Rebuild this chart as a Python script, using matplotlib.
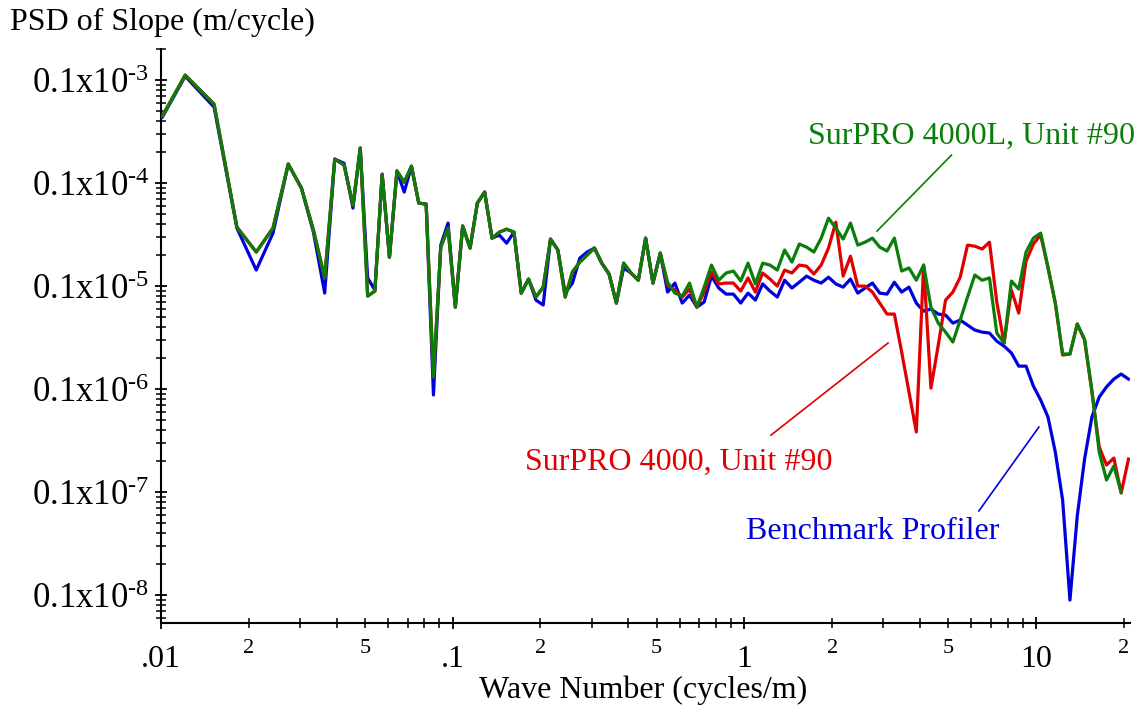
import numpy as np
import matplotlib
matplotlib.use("Agg")
import matplotlib.pyplot as plt
from matplotlib.ticker import LogLocator, NullFormatter
from matplotlib.transforms import ScaledTranslation

plt.rcParams['font.family'] = ['Liberation Serif', 'DejaVu Serif']
plt.rcParams['mathtext.fontset'] = 'custom'
plt.rcParams['mathtext.rm'] = 'Liberation Serif'
plt.rcParams['mathtext.it'] = 'Liberation Serif:italic'

# wave number (cycles/m)
wave_number = [
    0.0101, 0.0121, 0.0152, 0.0182, 0.0212, 0.0242, 0.0273, 0.0303, 0.0333, 0.0364, 0.0394, 0.0424,
    0.0455, 0.0482, 0.0511, 0.0541, 0.0573, 0.0607, 0.0644, 0.0682, 0.0722, 0.0765,
    0.0811, 0.0859, 0.0910, 0.0964, 0.1021, 0.1082, 0.1147, 0.1215, 0.1287, 0.1364,
    0.1445, 0.1531, 0.1622, 0.1718, 0.1820, 0.1929, 0.2043, 0.2165, 0.2294, 0.2430,
    0.2574, 0.2728, 0.2890, 0.3062, 0.3244, 0.3437, 0.3641, 0.3857, 0.4087, 0.4330,
    0.4587, 0.4860, 0.5149, 0.5455, 0.5779, 0.6123, 0.6487, 0.6872, 0.7281, 0.7714,
    0.8172, 0.8658, 0.9173, 0.9718, 1.0296, 1.0908, 1.1557, 1.2244, 1.2972, 1.3743,
    1.4560, 1.5426, 1.6343, 1.7315, 1.8344, 1.9435, 2.0591, 2.1815, 2.3112, 2.4487,
    2.5943, 2.7485, 2.9120, 3.0851, 3.2686, 3.4629, 3.6688, 3.8870, 4.1181, 4.3630,
    4.6224, 4.8973, 5.1885, 5.4970, 5.8239, 6.1702, 6.5371, 6.9258, 7.3376, 7.7740,
    8.2362, 8.7260, 9.2448, 9.7946, 10.377, 10.994, 11.648, 12.340, 13.074, 13.851,
    14.675, 15.548, 16.473, 17.452, 18.490, 19.590, 20.755,
]

benchmark = [
    4.37e-5, 1.09e-4, 5.47e-5, 3.66e-6, 1.43e-6, 3.27e-6, 1.53e-5, 8.93e-6, 3.34e-6, 8.55e-7, 1.71e-5, 1.56e-5,
    5.71e-6, 2.19e-5, 1.20e-6, 9.15e-7, 1.22e-5, 1.91e-6, 1.31e-5, 8.18e-6, 1.46e-5, 6.40e-6,
    6.25e-6, 8.75e-8, 2.50e-6, 4.09e-6, 6.25e-7, 3.83e-6, 2.34e-6, 6.40e-6, 8.18e-6, 2.92e-6,
    3.13e-6, 2.61e-6, 3.34e-6, 8.55e-7, 1.17e-6, 7.31e-7, 6.55e-7, 2.86e-6, 2.24e-6, 8.55e-7,
    1.07e-6, 1.87e-6, 2.14e-6, 2.34e-6, 1.67e-6, 1.31e-6, 6.84e-7, 1.50e-6, 1.34e-6, 1.14e-6,
    2.92e-6, 1.07e-6, 2.09e-6, 8.75e-7, 1.07e-6, 6.84e-7, 8.18e-7, 6.25e-7, 7.00e-7, 1.25e-6,
    9.57e-7, 8.36e-7, 8.36e-7, 6.84e-7, 8.55e-7, 7.31e-7, 1.05e-6, 8.94e-7, 7.82e-7, 1.14e-6,
    9.57e-7, 1.09e-6, 1.25e-6, 1.14e-6, 1.07e-6, 1.22e-6, 1.05e-6, 9.77e-7, 1.17e-6, 8.55e-7,
    9.57e-7, 1.07e-6, 8.55e-7, 8.36e-7, 1.09e-6, 8.75e-7, 9.77e-7, 6.84e-7, 5.71e-7, 5.98e-7,
    5.35e-7, 5.23e-7, 4.37e-7, 4.68e-7, 4.18e-7, 3.74e-7, 3.57e-7, 3.50e-7, 2.92e-7, 2.61e-7,
    2.24e-7, 1.67e-7, 1.67e-7, 1.07e-7, 7.82e-8, 5.35e-8, 2.44e-8, 8.36e-9, 8.93e-10, 5.85e-9,
    2.09e-8, 5.35e-8, 8.36e-8, 1.05e-7, 1.25e-7, 1.40e-7, 1.25e-7,
]

surpro_4000 = [
    4.47e-5, 1.12e-4, 5.85e-5, 3.74e-6, 2.14e-6, 3.66e-6, 1.53e-5, 8.93e-6, 3.50e-6, 1.20e-6, 1.71e-5, 1.50e-5,
    6.11e-6, 2.19e-5, 8.00e-7, 8.94e-7, 1.22e-5, 1.91e-6, 1.31e-5, 1.02e-5, 1.46e-5, 6.40e-6,
    6.25e-6, 1.31e-7, 2.39e-6, 3.66e-6, 6.25e-7, 3.83e-6, 2.34e-6, 6.40e-6, 8.18e-6, 2.92e-6,
    3.34e-6, 3.57e-6, 3.34e-6, 8.55e-7, 1.17e-6, 7.82e-7, 9.77e-7, 2.86e-6, 2.24e-6, 7.82e-7,
    1.37e-6, 1.71e-6, 2.00e-6, 2.34e-6, 1.67e-6, 1.31e-6, 6.84e-7, 1.67e-6, 1.34e-6, 1.14e-6,
    2.92e-6, 1.07e-6, 2.09e-6, 1.02e-6, 9.15e-7, 7.82e-7, 9.35e-7, 6.25e-7, 8.75e-7, 1.37e-6,
    1.05e-6, 1.07e-6, 1.07e-6, 8.94e-7, 1.20e-6, 8.75e-7, 1.34e-6, 1.17e-6, 1.00e-6, 1.43e-6,
    1.34e-6, 1.60e-6, 1.56e-6, 1.31e-6, 1.60e-6, 2.34e-6, 4.18e-6, 1.25e-6, 1.95e-6, 1.00e-6,
    1.00e-6, 8.75e-7, 6.84e-7, 5.35e-7, 5.35e-7, 2.29e-7, 9.35e-8, 3.83e-8, 1.60e-6, 1.02e-7,
    2.67e-7, 7.31e-7, 8.75e-7, 1.22e-6, 2.50e-6, 2.44e-6, 2.29e-6, 2.67e-6, 7.00e-7, 2.80e-7,
    9.15e-7, 5.47e-7, 1.75e-6, 2.56e-6, 3.13e-6, 1.50e-6, 6.84e-7, 2.14e-7, 2.19e-7, 4.28e-7,
    2.99e-7, 9.35e-8, 2.74e-8, 1.83e-8, 2.14e-8, 9.77e-9, 2.09e-8,
]

surpro_4000l = [
    4.47e-5, 1.12e-4, 5.85e-5, 3.74e-6, 2.14e-6, 3.66e-6, 1.53e-5, 8.93e-6, 3.50e-6, 1.20e-6, 1.71e-5, 1.50e-5,
    6.11e-6, 2.19e-5, 8.00e-7, 8.94e-7, 1.22e-5, 1.91e-6, 1.31e-5, 1.02e-5, 1.46e-5, 6.40e-6,
    6.25e-6, 1.31e-7, 2.39e-6, 3.66e-6, 6.25e-7, 3.83e-6, 2.34e-6, 6.40e-6, 8.18e-6, 2.92e-6,
    3.34e-6, 3.57e-6, 3.34e-6, 8.55e-7, 1.17e-6, 7.82e-7, 9.77e-7, 2.86e-6, 2.24e-6, 7.82e-7,
    1.37e-6, 1.71e-6, 2.00e-6, 2.34e-6, 1.67e-6, 1.31e-6, 6.84e-7, 1.67e-6, 1.34e-6, 1.14e-6,
    2.92e-6, 1.07e-6, 2.09e-6, 1.09e-6, 8.55e-7, 8.00e-7, 1.07e-6, 6.25e-7, 9.77e-7, 1.60e-6,
    1.14e-6, 1.34e-6, 1.40e-6, 1.12e-6, 1.67e-6, 1.05e-6, 1.67e-6, 1.60e-6, 1.43e-6, 2.24e-6,
    1.71e-6, 2.56e-6, 2.39e-6, 2.14e-6, 2.92e-6, 4.57e-6, 3.66e-6, 2.86e-6, 4.09e-6, 2.50e-6,
    2.67e-6, 2.92e-6, 2.39e-6, 2.19e-6, 2.92e-6, 1.40e-6, 1.50e-6, 1.14e-6, 1.60e-6, 6.25e-7,
    4.37e-7, 3.57e-7, 2.86e-7, 4.68e-7, 7.82e-7, 1.28e-6, 1.14e-6, 1.20e-6, 3.50e-7, 2.80e-7,
    1.12e-6, 9.35e-7, 2.14e-6, 2.92e-6, 3.27e-6, 1.53e-6, 6.84e-7, 2.19e-7, 2.19e-7, 4.28e-7,
    3.05e-7, 9.77e-8, 2.44e-8, 1.31e-8, 1.79e-8, 1.00e-8,
]

y_major = [1e-9, 1e-8, 1e-7, 1e-6, 1e-5, 1e-4]
y_major_labels = [r'0.1x10$^{\text{-}8}$', r'0.1x10$^{\text{-}7}$', r'0.1x10$^{\text{-}6}$',
                  r'0.1x10$^{\text{-}5}$', r'0.1x10$^{\text{-}4}$', r'0.1x10$^{\text{-}3}$']
x_major = [0.01, 0.1, 1, 10]
x_major_labels = ['.01', '.1', '1', '10']

GREEN = '#0a7d0a'
RED = '#e00000'
BLUE = '#0000dd'

fig = plt.figure(figsize=(11.43, 7.12), dpi=100)
ax = fig.add_axes([0.1409, 0.125, 0.8477, 0.806])

ax.plot(wave_number, benchmark, color=BLUE, lw=2.3, zorder=3)
ax.plot(wave_number, surpro_4000, color=RED, lw=2.3, zorder=4)
ax.plot(wave_number[:len(surpro_4000l)], surpro_4000l, color=GREEN, lw=2.3, zorder=5)

ax.set_xscale('log')
ax.set_yscale('log')
ax.set_xlim(0.01, 21.0)
ax.set_ylim(5.35e-10, 2.0e-4)

for s in ['top', 'right']:
    ax.spines[s].set_visible(False)
for s in ['left', 'bottom']:
    ax.spines[s].set_linewidth(1.5)

ax.set_yticks(y_major)
ax.set_yticklabels(y_major_labels, fontsize=25)
ax.yaxis.set_minor_locator(LogLocator(base=10, subs=np.arange(2, 10), numticks=30))
ax.yaxis.set_minor_formatter(NullFormatter())
# labels sit a little below their ticks in the original
shift = ScaledTranslation(0, -0.05, fig.dpi_scale_trans)
for lab in ax.get_yticklabels():
    lab.set_transform(lab.get_transform() + shift)

ax.set_xticks(x_major)
ax.set_xticklabels(x_major_labels, fontsize=23)
x_minor = []
x_minor_labels = []
for dec in [0.01, 0.1, 1, 10]:
    for k in range(2, 10):
        v = dec * k
        if v > 21:
            break
        x_minor.append(v)
        x_minor_labels.append(str(k) if k in (2, 5) else '')
ax.set_xticks(x_minor, minor=True)
ax.set_xticklabels(x_minor_labels, minor=True, fontsize=16)

ax.tick_params(axis='both', which='major', direction='inout', length=9, width=1.3, colors='black')
ax.tick_params(axis='both', which='minor', direction='inout', length=7, width=1.1)
ax.tick_params(axis='y', which='major', pad=4)
ax.tick_params(axis='x', which='major', pad=11)
ax.tick_params(axis='x', which='minor', pad=8)

fig.text(0.009, 0.968, 'PSD of Slope (m/cycle)', fontsize=23, ha='left', va='center')
fig.text(0.5626, 0.031, 'Wave Number (cycles/m)', fontsize=23, ha='center', va='center')

# labels with leader lines
ax.text(6.03, 2.86e-5, 'SurPRO 4000L, Unit #90', color=GREEN, fontsize=23, ha='center', va='center')
ax.plot([2.85, 5.13], [3.42e-6, 1.87e-5], color=GREEN, lw=1.2)
ax.text(0.597, 1.95e-8, 'SurPRO 4000, Unit #90', color=RED, fontsize=23, ha='center', va='center')
ax.plot([3.11, 1.234], [2.80e-7, 3.57e-8], color=RED, lw=1.2)
ax.text(2.76, 4.18e-9, 'Benchmark Profiler', color=BLUE, fontsize=23, ha='center', va='center')
ax.plot([10.23, 6.37], [4.28e-8, 6.55e-9], color=BLUE, lw=1.2)

fig.savefig('out.png', dpi=100)
